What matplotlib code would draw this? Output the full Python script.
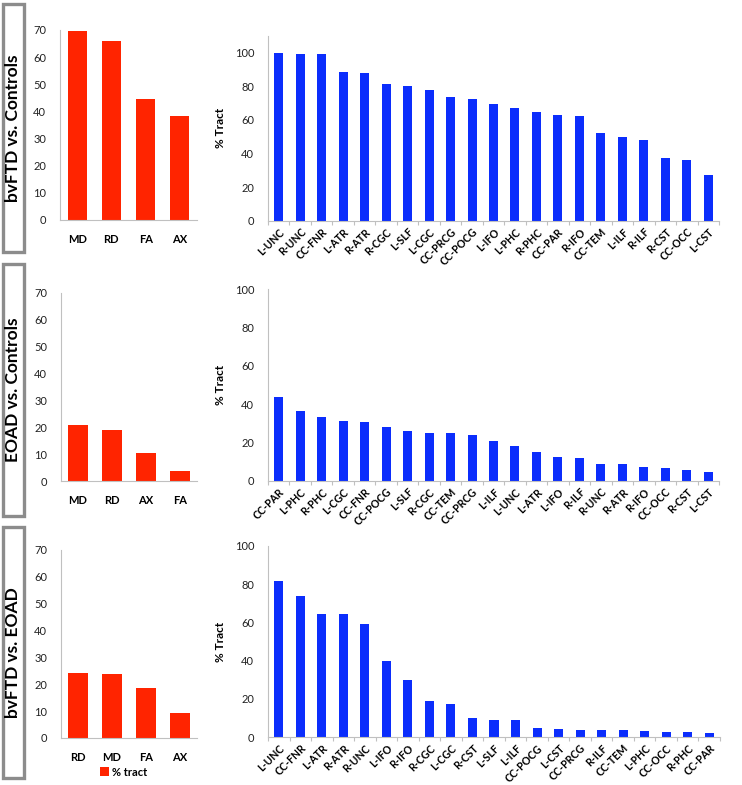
import matplotlib.pyplot as plt
from matplotlib.patches import Rectangle

plt.rcParams['font.family'] = ['Lato', 'DejaVu Sans']

# measures (left charts)
measures_1 = ["MD", "RD", "FA", "AX"]
pct_1 = [69.6, 66.1, 44.5, 38.3]
measures_2 = ["MD", "RD", "AX", "FA"]
pct_2 = [21.0, 18.9, 10.5, 3.7]
measures_3 = ["RD", "MD", "FA", "AX"]
pct_3 = [24.3, 23.7, 18.5, 9.2]

# tracts (right charts)
tracts_1 = ["L-UNC", "R-UNC", "CC-FNR", "L-ATR", "R-ATR", "R-CGC", "L-SLF", "L-CGC",
            "CC-PRCG", "CC-POCG", "L-IFO", "L-PHC", "R-PHC", "CC-PAR", "R-IFO",
            "CC-TEM", "L-ILF", "R-ILF", "R-CST", "CC-OCC", "L-CST"]
tract_pct_1 = [99.6, 99.2, 98.8, 88.5, 87.7, 81.4, 79.8, 77.8, 73.5, 72.3, 69.5,
               66.7, 64.4, 63.0, 62.0, 52.3, 49.7, 47.9, 37.2, 36.0, 27.1]
tracts_2 = ["CC-PAR", "L-PHC", "R-PHC", "L-CGC", "CC-FNR", "CC-POCG", "L-SLF", "R-CGC",
            "CC-TEM", "CC-PRCG", "L-ILF", "L-UNC", "L-ATR", "L-IFO", "R-ILF",
            "R-UNC", "R-ATR", "R-IFO", "CC-OCC", "R-CST", "L-CST"]
tract_pct_2 = [43.5, 36.3, 33.2, 31.3, 30.6, 27.8, 25.9, 25.0, 24.7, 24.0, 20.5,
               18.1, 15.0, 12.3, 12.0, 8.7, 8.5, 7.3, 6.8, 5.6, 4.5]
tracts_3 = ["L-UNC", "CC-FNR", "L-ATR", "R-ATR", "R-UNC", "L-IFO", "R-IFO", "R-CGC",
            "L-CGC", "R-CST", "L-SLF", "L-ILF", "CC-POCG", "L-CST", "CC-PRCG",
            "R-ILF", "CC-TEM", "L-PHC", "CC-OCC", "R-PHC", "CC-PAR"]
tract_pct_3 = [81.8, 73.8, 64.6, 64.4, 59.0, 40.0, 29.8, 18.8, 17.3, 9.9, 9.1,
               8.7, 4.5, 4.0, 3.9, 3.8, 3.6, 3.3, 2.8, 2.4, 1.9]

row_titles = ["bvFTD vs. Controls", "EOAD vs. Controls", "bvFTD vs. EOAD"]

RED = "#FF2400"
BLUE = "#0B2DFC"
SPINE = "#C0C0C0"
W, H = 742, 785

fig = plt.figure(figsize=(W / 100, H / 100), dpi=100)


def px_axes(left, top, right, bottom):
    return fig.add_axes([left / W, 1 - bottom / H, (right - left) / W, (bottom - top) / H])


def style(ax):
    for s in ["top", "right"]:
        ax.spines[s].set_visible(False)
    for s in ["left", "bottom"]:
        ax.spines[s].set_color(SPINE)
        ax.spines[s].set_linewidth(0.8)
    ax.tick_params(axis="y", length=0, labelsize=8, pad=10, colors="#222222")


def measure_chart(ax, cats, vals):
    x = range(len(cats))
    bars = ax.bar(x, vals, width=0.56, color=RED, label="% tract")
    ax.set_xlim(-0.5, len(cats) - 0.5)
    ax.set_ylim(0, 70)
    ax.set_yticks(range(0, 71, 10))
    ax.set_xticks(list(x))
    ax.set_xticklabels(cats, fontweight="bold", fontsize=8)
    ax.tick_params(axis="x", length=0, pad=10)
    style(ax)
    return bars


def tract_chart(ax, cats, vals, top):
    x = range(len(cats))
    ax.bar(x, vals, width=0.42, color=BLUE)
    ax.set_xlim(-0.5, len(cats) - 0.5)
    ax.set_ylim(0, top)
    ax.set_yticks(range(0, 101, 20))
    ax.set_xticks([i - 0.5 for i in range(len(cats) + 1)], minor=False)
    ax.set_xticklabels([])
    ax.set_xticks(list(x), minor=True)
    ax.set_xticklabels(cats, minor=True, rotation=45, ha="right",
                       rotation_mode="anchor", fontweight="bold", fontsize=7.6)
    ax.tick_params(axis="x", which="major", length=3, color=SPINE, direction="out")
    ax.tick_params(axis="x", which="minor", length=0, pad=4)
    ax.set_ylabel("% Tract", fontweight="bold", fontsize=8.5, labelpad=6)
    style(ax)


# row 1
ax = px_axes(60, 30, 197, 220)
measure_chart(ax, measures_1, pct_1)
ax = px_axes(268, 35.5, 719, 220.7)
tract_chart(ax, tracts_1, tract_pct_1, 110)

# row 2
ax = px_axes(61, 293, 197, 481)
measure_chart(ax, measures_2, pct_2)
ax = px_axes(268, 289, 719, 480.7)
tract_chart(ax, tracts_2, tract_pct_2, 100)

# row 3
ax = px_axes(61, 550, 197, 738)
bars = measure_chart(ax, measures_3, pct_3)
ax = px_axes(268, 546, 720, 737)
tract_chart(ax, tracts_3, tract_pct_3, 100)

fig.legend(handles=[bars], loc="center", bbox_to_anchor=(124 / W, 1 - 772 / H),
           frameon=False, handlelength=0.8, handleheight=0.8, handletextpad=0.3,
           prop={"weight": "bold", "size": 8})

# grey boxes with row titles
boxes = [(3, 4, 24, 252), (3, 264, 24, 516), (3, 527, 24, 778)]
for (l, t, r, b), title in zip(boxes, row_titles):
    fig.patches.append(Rectangle((l / W, 1 - b / H), (r - l) / W, (b - t) / H,
                                 transform=fig.transFigure, fill=False,
                                 edgecolor="#8C8C8C", linewidth=2.4))
    fig.text((l + r) / 2 / W, 1 - (t + b) / 2 / H, title, rotation=90,
             ha="center", va="center", fontsize=12.5, fontweight="bold")

fig.savefig("out.png", dpi=100)
